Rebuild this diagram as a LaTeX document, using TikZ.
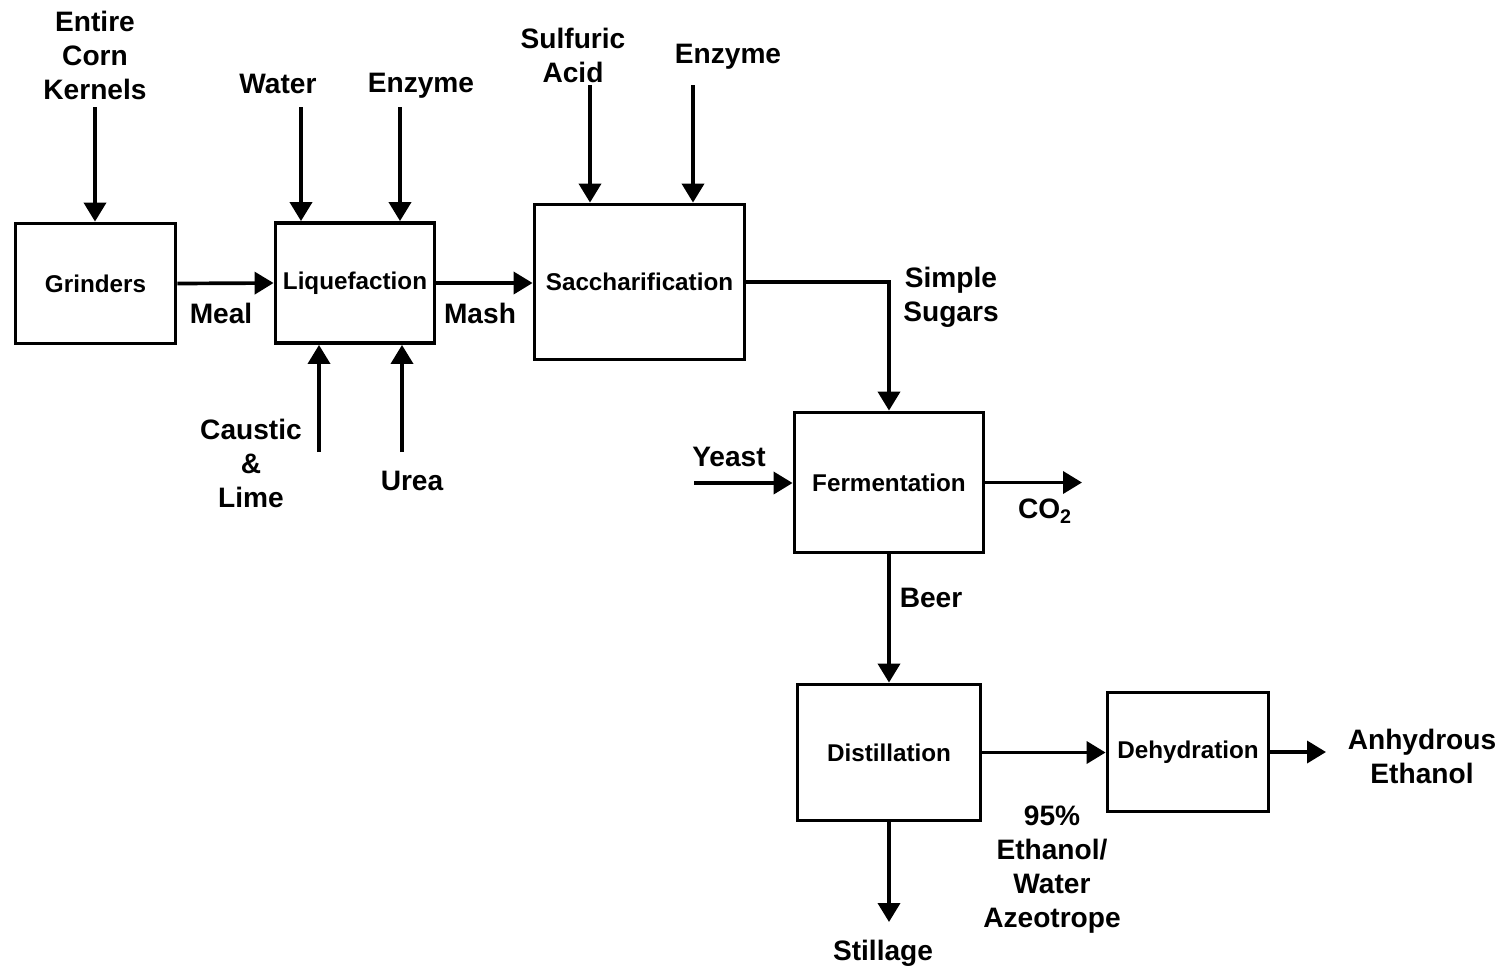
\documentclass[tikz,border=0pt]{standalone}
\usepackage{fontspec}
\setmainfont{Liberation Sans}
\usetikzlibrary{arrows.meta,positioning}

\begin{document}
\begin{tikzpicture}[x=0.02cm, y=-0.02cm,
					unit/.style={draw, rectangle, line width=2.2pt, align=center, inner sep=0pt, font=\fontsize{13.8}{16}\selectfont\bfseries},
					stream/.style={align=center, inner sep=0pt, font=\fontsize{16}{19.35}\selectfont\bfseries},
					flow/.style={-{Triangle[length=3.8mm,width=4.4mm]}, line width=2.1pt}]
					\useasboundingbox (0,0) rectangle (1507,971);

					\node[unit, minimum width=3.2cm, minimum height=2.4cm] (grind) at (95.5,283.5) {Grinders};
					\node[unit, minimum width=3.18cm, minimum height=2.4cm] (liq) at (355,283) {Liquefaction};
					\node[unit, minimum width=4.2cm, minimum height=3.1cm] (sacch) at (639.5,282) {Saccharification};
					\node[unit, minimum width=3.78cm, minimum height=2.8cm] (ferm) at (889,482.5) {Fermentation};
					\node[unit, minimum width=3.66cm, minimum height=2.72cm] (dist) at (889,752.5) {Distillation};
					\node[unit, minimum width=3.22cm, minimum height=2.38cm] (dehyd) at (1188,752) {Dehydration};

					\coordinate (kern) at (95,107);
					\coordinate (water) at (301,107);
					\coordinate (enz1) at (400,107);
					\coordinate (caustic) at (319,452);
					\coordinate (urea) at (402,452);
					\coordinate (acid) at (590,85);
					\coordinate (enz2) at (693,85);
					\coordinate (yeast) at (694,483);
					\coordinate (co2) at (1082,482);
					\coordinate (still) at (888,922);
					\coordinate (anhyd) at (1326,752);

					\node[stream] (kernlbl) at (95,55) {Entire\\Corn\\Kernels};
					\node[stream] (waterlbl) at (278,84) {Water};
					\node[stream] (enz1lbl) at (421,86) {Enzyme};
					\node[stream] (meallbl) at (221,313) {Meal};
					\node[stream] (causticlbl) at (251,463) {Caustic\\\&\\Lime};
					\node[stream] (urealbl) at (412,481) {Urea};
					\node[stream] (mashlbl) at (480,313) {Mash};
					\node[stream] (acidlbl) at (573,55) {Sulfuric\\Acid};
					\node[stream] (enz2lbl) at (728,57) {Enzyme};
					\node[stream] (sugarlbl) at (951,297) {Simple\\Sugars};
					\node[stream] (yeastlbl) at (729,457) {Yeast};
					\node[stream] (co2lbl) at (1045,511) {CO\textsubscript{2}};
					\node[stream] (beerlbl) at (931,598) {Beer};
					\node[stream] (azeolbl) at (1052,870) {95\%\\Ethanol/\\Water\\Azeotrope};
					\node[stream] (stilllbl) at (883,953) {Stillage};
					\node[stream] (anhydlbl) at (1422,756) {Anhydrous\\Ethanol};

					\draw[flow] (kern) -- (kern |- grind.north);
					\draw[flow] (water) -- (water |- liq.north);
					\draw[flow] (enz1) -- (enz1 |- liq.north);
					\draw[flow] (caustic) -- (caustic |- liq.south);
					\draw[flow] (urea) -- (urea |- liq.south);
					\draw[flow] (acid) -- (acid |- sacch.north);
					\draw[flow] (enz2) -- (enz2 |- sacch.north);
					\draw[flow] (grind.east) -- (liq.west);
					\draw[flow] (liq.east) -- (liq.east -| sacch.west);
					\draw[flow] (sacch.east) -| (ferm.north);
					\draw[flow] (yeast) -- (yeast -| ferm.west);
					\draw[flow] (ferm.east) -- (ferm.east -| co2);
					\draw[flow] (ferm.south) -- (dist.north);
					\draw[flow] (dist.east) -- (dist.east -| dehyd.west);
					\draw[flow] (dist.south) -- (dist.south |- still);
					\draw[flow] (dehyd.east) -- (dehyd.east -| anhyd);
				\end{tikzpicture}
\end{document}
